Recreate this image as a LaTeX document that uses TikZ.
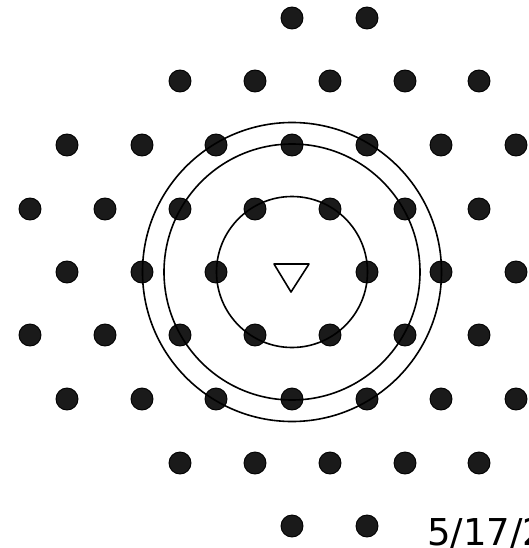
\documentclass[tikz,border=0pt]{standalone}
\usepackage{fontspec}
\newfontfamily\datefont{DejaVu Sans}
\definecolor{dotfill}{HTML}{1A1A1A}
\begin{document}
\begin{tikzpicture}[x=1pt,y=-1pt,
  latdot/.style={circle,fill=dotfill,draw=black,line width=0.9pt,minimum size=22pt,inner sep=0pt},
  ring/.style={draw=black,line width=1.6pt},
  tri/.style={draw=black,line width=1.6pt,line join=round}]
\useasboundingbox (0,0) rectangle (529,548);
% rows of dots
\foreach \x [count=\i] in {292,367} \node[latdot] (a\i) at (\x,18) {};
\foreach \x [count=\i] in {180,255,330,405,479} \node[latdot] (b\i) at (\x,81) {};
\foreach \x [count=\i] in {67,142,216,292,367,441,516} \node[latdot] (c\i) at (\x,145) {};
\foreach \x [count=\i] in {30,105,180,255,330,405,479} \node[latdot] (d\i) at (\x,209) {};
\foreach \x [count=\i] in {67,142,216,367,441,516} \node[latdot] (e\i) at (\x,272) {};
\foreach \x [count=\i] in {30,105,180,255,330,405,479} \node[latdot] (f\i) at (\x,335) {};
\foreach \x [count=\i] in {67,142,216,292,367,441,516} \node[latdot] (g\i) at (\x,399) {};
\foreach \x [count=\i] in {180,255,330,405,479} \node[latdot] (h\i) at (\x,463) {};
\foreach \x [count=\i] in {292,367} \node[latdot] (k\i) at (\x,526) {};
% circles
\coordinate (ctr) at (292,272);
\draw[ring] (ctr) circle[radius=75.5];
\draw[ring] (ctr) circle[radius=128];
\draw[ring] (ctr) circle[radius=149.5];
% triangle
\draw[tri] (274,264) -- (309,264) -- (291,292) -- cycle;
% date text
\node[anchor=base west,inner sep=0pt,font=\datefont\fontsize{37}{40}\selectfont] (date) at (427,545) {5/17/2};
\end{tikzpicture}
\end{document}
